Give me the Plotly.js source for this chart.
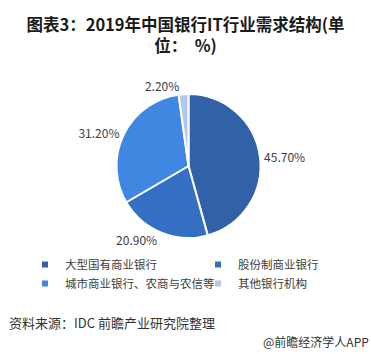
<!DOCTYPE html>
<html><head><meta charset="utf-8">
<script src="https://cdn.plot.ly/plotly-3.0.1.min.js"></script>
<style>html,body{margin:0;padding:0;background:#fff}</style>
</head><body>
<div id="chart" style="width:371px;height:354px"></div>
<script>
var categories = ["大型国有商业银行", "股份制商业银行", "城市商业银行、农商与农信等", "其他银行机构"];
var values = [45.7, 20.9, 31.2, 2.2];
var labelsText = ["45.70%", "20.90%", "31.20%", "2.20%"];
var colors = ["#3162A8", "#3370C4", "#3F87E0", "#B4C8EE"];
var FONT = "Noto Sans CJK SC, sans-serif";

var pie = {
  type: "pie",
  labels: categories,
  values: values,
  text: labelsText,
  textinfo: "text",
  textposition: "outside",
  sort: false,
  direction: "clockwise",
  rotation: 0,
  showlegend: false,
  marker: {colors: colors, line: {color: "#ffffff", width: 2}},
  textfont: {family: FONT, size: 12, color: "#404040"},
  outsidetextfont: {family: FONT, size: 12, color: "#404040"},
  domain: {x: [115/371, 262/371], y: [1-238/354, 1-94/354]},
  hoverinfo: "none"
};

// legend entries (small square swatches, as in the reference)
var legendTraces = categories.map(function (c, i) {
  return {
    type: "scatter", mode: "markers", x: [null], y: [null],
    name: c, showlegend: true, hoverinfo: "none",
    marker: {symbol: "square", size: 6, color: colors[i]}
  };
});

var layout = {
  width: 371, height: 354,
  margin: {l: 0, r: 0, t: 0, b: 0},
  paper_bgcolor: "#ffffff",
  plot_bgcolor: "rgba(0,0,0,0)",
  font: {family: FONT, color: "#404040"},
  xaxis: {visible: false, domain: [0, 0.01]},
  yaxis: {visible: false, domain: [0, 0.01]},
  title: {
    text: "<b>图表3：2019年中国银行IT行业需求结构(单<br>位：  %)</b>",
    font: {family: FONT, size: 16.5, color: "#1a1a1a"},
    x: 0.5, xanchor: "center", y: 1 - 31/354, yanchor: "middle"
  },
  showlegend: true,
  legend: {
    orientation: "h",
    x: 50/371, xanchor: "left",
    y: 1 - 250/354, yanchor: "top",
    entrywidth: 128, entrywidthmode: "pixels",
    font: {family: FONT, size: 11.5, color: "#404040"},
    itemwidth: 30,
    traceorder: "normal",
    bgcolor: "rgba(0,0,0,0)"
  },
  annotations: [
    {text: "资料来源：IDC 前瞻产业研究院整理", xref: "paper", yref: "paper",
     x: 7/371, y: 1 - 322/354, xanchor: "left", yanchor: "middle", showarrow: false,
     font: {family: FONT, size: 13, color: "#333333"}},
    {text: "@前瞻经济学人APP", xref: "paper", yref: "paper",
     x: 1, y: 1 - 341/354, xanchor: "right", yanchor: "middle", showarrow: false,
     font: {family: FONT, size: 12, color: "#333333"}}
  ]
};

Plotly.newPlot("chart", [pie].concat(legendTraces), layout, {displayModeBar: false, staticPlot: true});
</script>
</body></html>
